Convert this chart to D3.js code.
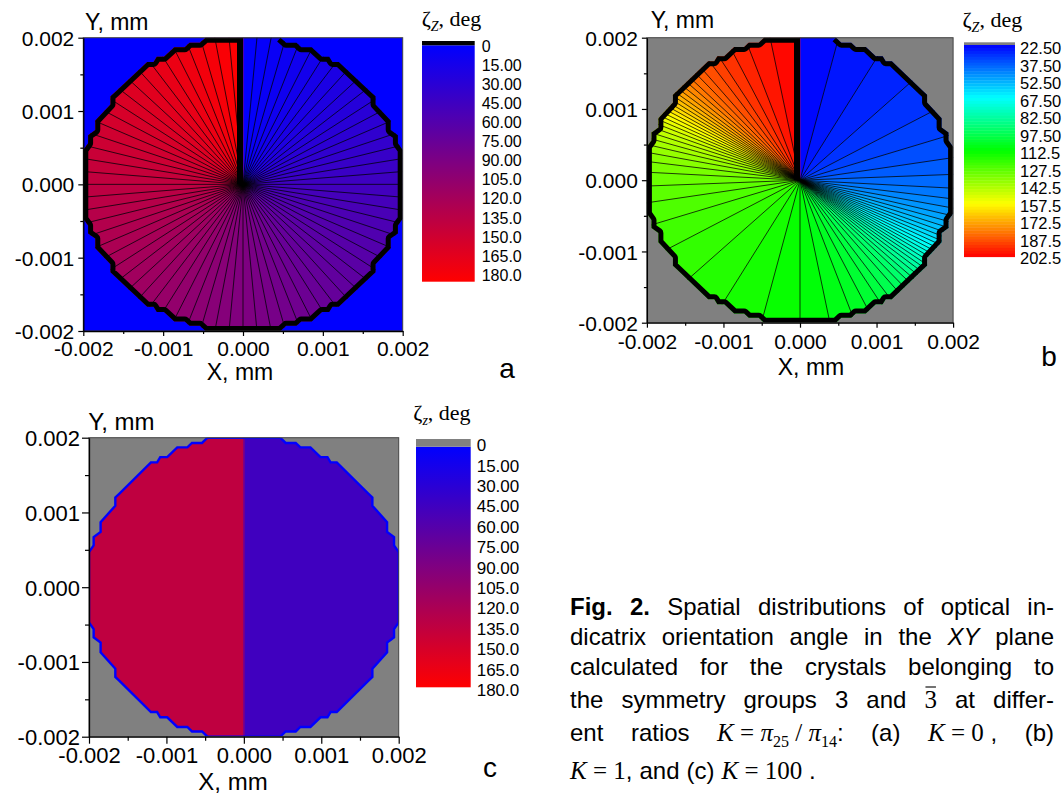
<!DOCTYPE html>
<html><head><meta charset="utf-8">
<script src="https://cdn.jsdelivr.net/npm/d3@7"></script>
<style>
body{margin:0;background:#fff}
svg{display:block}
text{white-space:pre}
</style>
</head><body>
<svg id="fig" width="1062" height="796"></svg>
<script>
// ---------------- data ----------------
const xTicks = [-0.002, -0.001, 0, 0.001, 0.002];
const yTicks = [-0.002, -0.001, 0, 0.001, 0.002];
const minorTicks = [-0.0015, -0.0005, 0.0005, 0.0015];
const axisDomain = [-0.002, 0.002];

// crystal cross-section boundary, first quadrant (mm), from top to right
const boundaryX = [0, 0.00047, 0.00054, 0.00067, 0.00073, 0.00086, 0.00099, 0.00108, 0.00112, 0.0012, 0.00161, 0.00166, 0.00166, 0.00185, 0.00185, 0.00194, 0.00194, 0.002, 0.002];
const boundaryY = [0.002, 0.002, 0.00193, 0.00193, 0.00187, 0.00187, 0.00174, 0.00174, 0.00167, 0.00167, 0.00125, 0.0012, 0.00109, 0.00087, 0.00074, 0.00067, 0.00056, 0.00047, 0];

// angle zeta (deg) versus polar angle phi (deg, clockwise from +Y)
const aPhi  = [0, 90, 180, 270, 360];
const aZeta = [0, 45, 90, 135, 180];

const bPhi  = [0, 15, 30, 45, 60, 70, 80, 90, 95, 100, 105, 110, 112.5, 115, 117.5, 120, 122.5, 125, 127.5, 130, 135, 140, 150, 160, 170, 180,
               195, 210, 225, 240, 250, 260, 270, 275, 280, 285, 290, 292.5, 295, 297.5, 300, 302.5, 305, 307.5, 310, 315, 320, 330, 340, 350, 360];
const bZeta = [22.5, 25.15, 27.46, 29.75, 32.33, 34.44, 37.13, 40.88, 43.4, 46.61, 50.76, 56.14, 59.37, 62.96, 66.85, 70.95, 75.1, 79.17, 83.0, 86.53, 92.47, 97.08, 103.4, 107.45, 110.3, 112.5,
               115.15, 117.46, 119.75, 122.33, 124.44, 127.13, 130.88, 133.4, 136.61, 140.76, 146.14, 149.37, 152.96, 156.85, 160.95, 165.1, 169.17, 173.0, 176.53, 182.47, 187.08, 193.4, 197.45, 200.3, 202.5];

const cSides = ["left", "right"];
const cZeta  = [135, 45];

const levelStep = 2.5;

const aLegendLabels = ["0", "15.00", "30.00", "45.00", "60.00", "75.00", "90.00", "105.0", "120.0", "135.0", "150.0", "165.0", "180.0"];
const bLegendLabels = ["22.50", "37.50", "52.50", "67.50", "82.50", "97.50", "112.5", "127.5", "142.5", "157.5", "172.5", "187.5", "202.5"];
const cLegendLabels = ["0", "15.00", "30.00", "45.00", "60.00", "75.00", "90.00", "105.0", "120.0", "135.0", "150.0", "165.0", "180.0"];

const blueRedStops = ["#0000ff", "#ff0000"];
const rainbowStopValues = [22.5, 67.5, 112.5, 157.5, 202.5];
const rainbowStops = ["#0000ff", "#00ffff", "#00ff00", "#ffff00", "#ff0000"];

// ---------------- setup ----------------
const SANS = "'Liberation Sans', Arial, sans-serif";
const SERIF = "'Liberation Serif', 'Times New Roman', serif";
const svg = d3.select("#fig");
const defs = svg.append("defs");

const blueRed = d3.scaleLinear().domain([0, 180]).range(blueRedStops).interpolate(d3.interpolateRgb);
const rainbow = d3.scaleLinear().domain(rainbowStopValues).range(rainbowStops).interpolate(d3.interpolateRgb);

const q1 = d3.zip(boundaryX, boundaryY);
const q4 = q1.slice().reverse().map(([a, b]) => [a, -b]);
const q3 = q1.map(([a, b]) => [-a, -b]);
const q2 = q1.slice().reverse().map(([a, b]) => [-a, b]);
const crystal = q1.concat(q4.slice(1), q3.slice(1), q2.slice(1));

const panels = {
  a: {id: "a", x0: 83.3, x1: 402.7, y0: 37.7, y1: 331, bg: "#0000ff", tickFont: 21, titleFont: 23, tickLen: 5, minorLen: 3, labelGap: 9,
      xLabelBaseline: 356, xTitle: [240, 380], yTitle: [85, 30], letter: ["a", 507, 378],
      legend: {x0: 422, x1: 474.7, capTop: 41, capBottom: 45.3, capColor: "#000", barBottom: 281.7, labelX: 481.7, labelTop: 46, labelBottom: 275, font: 16,
               title: [421.7, 26], sub: "Z"}},
  b: {id: "b", x0: 646.9, x1: 953.1, y0: 37.7, y1: 322.7, bg: "#808080", tickFont: 21, titleFont: 23, tickLen: 5, minorLen: 3, labelGap: 9,
      xLabelBaseline: 349, xTitle: [811, 375], yTitle: [650.7, 28], letter: ["b", 1049, 366],
      legend: {x0: 964, x1: 1015, capTop: 42.3, capBottom: 45, capColor: "#808080", barBottom: 256.7, labelX: 1020, labelTop: 48.3, labelBottom: 258.3, font: 16.5,
               title: [962.5, 27], sub: "Z"}},
  c: {id: "c", x0: 89, x1: 398.7, y0: 437.7, y1: 736.7, bg: "#808080", tickFont: 22, titleFont: 24, tickLen: 7, minorLen: 4, labelGap: 9,
      xLabelBaseline: 763, xTitle: [233, 790], yTitle: [88.3, 430], letter: ["c", 490, 777],
      legend: {x0: 416, x1: 470.7, capTop: 439, capBottom: 446.7, capColor: "#808080", barBottom: 687.3, labelX: 476.7, labelTop: 445, labelBottom: 690, font: 17,
               title: [413.3, 420], sub: "z"}}
};

function scales(cfg) {
  return [d3.scaleLinear().domain(axisDomain).range([cfg.x0, cfg.x1]),
          d3.scaleLinear().domain(axisDomain).range([cfg.y1, cfg.y0])];
}

function drawSectors(layer, x, y, phiTable, zetaTable, colour) {
  const phiOf = d3.scaleLinear().domain(zetaTable).range(phiTable);
  const lo = zetaTable[0], hi = zetaTable[zetaTable.length - 1];
  const levels = d3.range(lo, hi + levelStep / 2, levelStep);
  const R = 0.012, rad = Math.PI / 180;
  const P = (phi, r) => [x(r * Math.sin(phi * rad)), y(r * Math.cos(phi * rad))];
  const c = P(0, 0);
  d3.pairs(levels).forEach(([l0, l1]) => {
    const p0 = phiOf(l0), p1 = phiOf(l1), pm = (p0 + p1) / 2;
    const pts = [c, P(p0, R), P(pm, R), P(p1, R)];
    const col = colour((l0 + l1) / 2);
    layer.append("path").attr("d", "M" + pts.join("L") + "Z")
      .attr("fill", col).attr("stroke", col).attr("stroke-width", 0.6);
  });
  levels.slice(1, -1).forEach(l => {
    const e = P(phiOf(l), R);
    layer.append("line").attr("x1", c[0]).attr("y1", c[1]).attr("x2", e[0]).attr("y2", e[1])
      .attr("stroke", "#000").attr("stroke-width", 0.75);
  });
}

function drawAxes(g, cfg, x, y) {
  const fmt = d => d.toFixed(3);
  const gx = g.append("g").attr("transform", `translate(0,${cfg.y1})`)
    .call(d3.axisBottom(x).tickValues(xTicks).tickSize(cfg.tickLen).tickSizeOuter(0).tickFormat(fmt));
  gx.selectAll("text").attr("y", cfg.xLabelBaseline - cfg.y1).attr("dy", 0);
  g.append("g").attr("transform", `translate(0,${cfg.y1})`)
    .call(d3.axisBottom(x).tickValues(minorTicks).tickSize(cfg.minorLen).tickFormat(""))
    .call(s => s.select(".domain").remove());
  const gy = g.append("g").attr("transform", `translate(${cfg.x0},0)`)
    .call(d3.axisLeft(y).tickValues(yTicks).tickSize(cfg.tickLen).tickSizeOuter(0).tickFormat(fmt));
  gy.selectAll("text").attr("x", -cfg.labelGap).attr("dy", "0.36em");
  g.append("g").attr("transform", `translate(${cfg.x0},0)`)
    .call(d3.axisLeft(y).tickValues(minorTicks).tickSize(cfg.minorLen).tickFormat(""))
    .call(s => s.select(".domain").remove());
  g.selectAll(".tick text").attr("font-size", cfg.tickFont).attr("font-family", SANS).attr("fill", "#000");
  g.selectAll(".domain").attr("stroke", "#000").attr("stroke-width", 1.3);
  g.selectAll(".tick line").attr("stroke", "#000").attr("stroke-width", 1.2);

  g.append("text").attr("x", cfg.xTitle[0]).attr("y", cfg.xTitle[1]).attr("text-anchor", "middle")
    .attr("font-family", SANS).attr("font-size", cfg.titleFont).text("X, mm");
  g.append("text").attr("x", cfg.yTitle[0]).attr("y", cfg.yTitle[1])
    .attr("font-family", SANS).attr("font-size", cfg.titleFont).text("Y, mm");
  g.append("text").attr("x", cfg.letter[1]).attr("y", cfg.letter[2]).attr("text-anchor", "middle")
    .attr("font-family", SANS).attr("font-size", 28).text(cfg.letter[0]);
}

function drawLegend(cfg, colour, lo, hi, labels, banded) {
  const L = cfg.legend;
  const g = svg.append("g");
  const vy = d3.scaleLinear().domain([lo, hi]).range([L.capBottom, L.barBottom]);
  if (banded) {
    const levels = d3.range(lo, hi + levelStep / 2, levelStep);
    d3.pairs(levels).forEach(([l0, l1]) => {
      g.append("rect").attr("x", L.x0).attr("width", L.x1 - L.x0)
        .attr("y", vy(l0)).attr("height", vy(l1) - vy(l0) + 0.4)
        .attr("fill", colour((l0 + l1) / 2));
    });
  } else {
    const gid = "grad-" + cfg.id;
    const grad = defs.append("linearGradient").attr("id", gid).attr("x1", 0).attr("y1", 0).attr("x2", 0).attr("y2", 1);
    d3.range(0, 1.0001, 0.05).forEach(t => {
      grad.append("stop").attr("offset", t).attr("stop-color", colour(lo + t * (hi - lo)));
    });
    g.append("rect").attr("x", L.x0).attr("width", L.x1 - L.x0)
      .attr("y", vy(lo)).attr("height", vy(hi) - vy(lo)).attr("fill", `url(#${gid})`);
  }
  g.append("rect").attr("x", L.x0).attr("width", L.x1 - L.x0)
    .attr("y", L.capTop).attr("height", L.capBottom - L.capTop).attr("fill", L.capColor);
  const ly = d3.scalePoint().domain(labels).range([L.labelTop, L.labelBottom]);
  g.selectAll("text.lab").data(labels).join("text").attr("class", "lab")
    .attr("x", L.labelX).attr("y", d => ly(d)).attr("dy", "0.36em")
    .attr("font-family", SANS).attr("font-size", L.font).text(d => d);
  const t = g.append("text").attr("x", L.title[0]).attr("y", L.title[1])
    .attr("font-family", SERIF).attr("font-size", 22);
  t.append("tspan").text("ζ");
  t.append("tspan").attr("font-size", 14).attr("font-style", "italic").attr("dy", 5).text(L.sub);
  t.append("tspan").attr("dy", -5).text(", deg");
}

function framePanel(cfg, x, y) {
  const g = svg.append("g");
  defs.append("clipPath").attr("id", cfg.id + "-plot").append("rect")
    .attr("x", cfg.x0).attr("y", cfg.y0).attr("width", cfg.x1 - cfg.x0).attr("height", cfg.y1 - cfg.y0);
  const line = d3.line().x(d => x(d[0])).y(d => y(d[1]));
  defs.append("clipPath").attr("id", cfg.id + "-poly").append("path").attr("d", line(crystal) + "Z");
  g.append("rect").attr("x", cfg.x0).attr("y", cfg.y0).attr("width", cfg.x1 - cfg.x0).attr("height", cfg.y1 - cfg.y0)
    .attr("fill", cfg.bg);
  const field = g.append("g").attr("clip-path", `url(#${cfg.id}-poly)`);
  const over = g.append("g").attr("clip-path", `url(#${cfg.id}-plot)`);
  return {g, field, over, line};
}

function contourPanel(cfg, phiT, zetaT, colour, labels, banded) {
  const [x, y] = scales(cfg);
  const {g, field, over, line} = framePanel(cfg, x, y);
  drawSectors(field, x, y, phiT, zetaT, colour);
  // thick boundary contour (inside the crystal)
  field.append("path").attr("d", line(crystal.slice(1))).attr("fill", "none")
    .attr("stroke", "#000").attr("stroke-width", 10).attr("stroke-linejoin", "round");
  over.append("path").attr("d", line(crystal.slice(0, 2))).attr("fill", "none")
    .attr("stroke", "#111").attr("stroke-width", 1.2);
  // discontinuity of zeta along +Y
  over.append("rect").attr("x", x(0) - 6).attr("width", 6)
    .attr("y", y(axisDomain[1])).attr("height", y(0) - y(axisDomain[1])).attr("fill", "#000");
  g.append("rect").attr("x", cfg.x0).attr("y", cfg.y0).attr("width", cfg.x1 - cfg.x0).attr("height", cfg.y1 - cfg.y0)
    .attr("fill", "none").attr("stroke", "#444").attr("stroke-width", 1);
  drawAxes(g, cfg, x, y);
  drawLegend(cfg, colour, zetaT[0], zetaT[zetaT.length - 1], labels, banded);
}

contourPanel(panels.a, aPhi, aZeta, blueRed, aLegendLabels, false);
contourPanel(panels.b, bPhi, bZeta, rainbow, bLegendLabels, true);

// panel c
(function () {
  const cfg = panels.c;
  const [x, y] = scales(cfg);
  const {g, field, over, line} = framePanel(cfg, x, y);
  cSides.forEach((s, i) => {
    const xa = s === "left" ? x(axisDomain[0]) - 6 : x(0);
    const xb = s === "left" ? x(0) : x(axisDomain[1]) + 6;
    field.append("rect").attr("x", xa).attr("width", xb - xa)
      .attr("y", cfg.y0 - 6).attr("height", cfg.y1 - cfg.y0 + 12).attr("fill", blueRed(cZeta[i]));
  });
  field.append("line").attr("x1", x(0)).attr("x2", x(0)).attr("y1", cfg.y0).attr("y2", cfg.y1)
    .attr("stroke", blueRed(d3.mean(cZeta))).attr("stroke-width", 1.6);
  over.append("path").attr("d", line(crystal) + "Z").attr("fill", "none")
    .attr("stroke", "#0000ff").attr("stroke-width", 2.4);
  g.append("rect").attr("x", cfg.x0).attr("y", cfg.y0).attr("width", cfg.x1 - cfg.x0).attr("height", cfg.y1 - cfg.y0)
    .attr("fill", "none").attr("stroke", "#444").attr("stroke-width", 1);
  drawAxes(g, cfg, x, y);
  drawLegend(cfg, blueRed, 0, 180, cLegendLabels, false);
})();

// ---------------- caption ----------------
const S = (t, o = {}) => Object.assign({t}, o);
const words = s => s.split(" ").map(w => [S(w)]);
const captionLines = [
  {y: 615, justify: true, tokens: [[S("Fig.", {b: 1})], [S("2.", {b: 1})], ...words("Spatial distributions of optical in-")]},
  {y: 645, justify: true, tokens: [...words("dicatrix orientation angle in the"), [S("XY", {i: 1})], [S("plane")]]},
  {y: 675, justify: true, tokens: words("calculated for the crystals belonging to")},
  {y: 708, justify: true, tokens: [...words("the symmetry groups 3 and"), [S("3", {serif: 1, over: 1})], ...words("at differ-")]},
  {y: 741, justify: true, tokens: [[S("ent")], [S("ratios")],
      [S("K", {serif: 1, i: 1}), S(" = ", {serif: 1}), S("π", {serif: 1, i: 1}), S("25", {serif: 1, sub: 1}), S(" / ", {serif: 1}),
       S("π", {serif: 1, i: 1}), S("14", {serif: 1, sub: 1}), S(":")],
      [S("(a)")], [S("K", {serif: 1, i: 1}), S(" = 0", {serif: 1}), S(" ,")], [S("(b)")]]},
  {y: 779, justify: false, tokens: [[S("K", {serif: 1, i: 1}), S(" = 1", {serif: 1}), S(",")], [S("and")], [S("(c)")],
      [S("K", {serif: 1, i: 1}), S(" = 100", {serif: 1}), S(" .")]]}
];
const capLeft = 570, capRight = 1054, capFont = 24, mathFont = 25, subFont = 16;
const cap = svg.append("g");
captionLines.forEach(line => {
  const els = line.tokens.map(tok => {
    const t = cap.append("text").attr("y", line.y).attr("x", 0).attr("fill", "#000");
    let shift = 0;
    tok.forEach(seg => {
      const ts = t.append("tspan").text(seg.t)
        .attr("font-family", seg.serif ? SERIF : SANS)
        .attr("font-size", seg.sub ? subFont : (seg.serif ? mathFont : capFont))
        .attr("font-style", seg.i ? "italic" : "normal")
        .attr("font-weight", seg.b ? "bold" : "normal");
      const want = seg.sub ? 6 : 0;
      if (want !== shift) { ts.attr("dy", want - shift); shift = want; }
    });
    return {t, tok, w: t.node().getComputedTextLength()};
  });
  const total = d3.sum(els, e => e.w);
  const gap = line.justify ? (capRight - capLeft - total) / (els.length - 1) : 7;
  let xx = capLeft;
  els.forEach(e => {
    e.t.attr("x", xx);
    if (e.tok.some(s => s.over)) {
      cap.append("line").attr("x1", xx + 1).attr("x2", xx + e.w - 1)
        .attr("y1", line.y - 21).attr("y2", line.y - 21).attr("stroke", "#000").attr("stroke-width", 1.1);
    }
    xx += e.w + gap;
  });
});
</script>
</body></html>
